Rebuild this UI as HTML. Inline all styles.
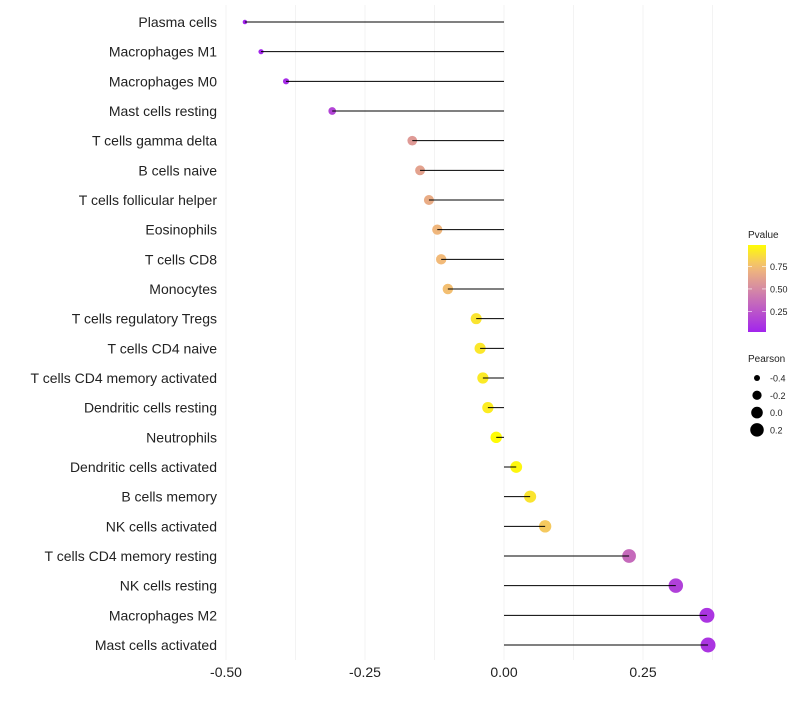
<!DOCTYPE html>
<html><head><meta charset="utf-8"><style>
body{margin:0;background:#fff;font-family:"Liberation Sans",sans-serif}
svg text{font-family:"Liberation Sans",sans-serif}
</style></head><body>
<svg id="chart" width="800" height="700"></svg>
<script>
const categories=["Plasma cells","Macrophages M1","Macrophages M0","Mast cells resting","T cells gamma delta","B cells naive","T cells follicular helper","Eosinophils","T cells CD8","Monocytes","T cells regulatory  Tregs ","T cells CD4 naive","T cells CD4 memory activated","Dendritic cells resting","Neutrophils","Dendritic cells activated","B cells memory","NK cells activated","T cells CD4 memory resting","NK cells resting","Macrophages M2","Mast cells activated"];
const pearson=[-0.466,-0.437,-0.392,-0.309,-0.165,-0.151,-0.135,-0.120,-0.113,-0.101,-0.050,-0.043,-0.038,-0.029,-0.014,0.022,0.047,0.074,0.225,0.309,0.365,0.367];
const pvalue=[0.02,0.03,0.06,0.17,0.58,0.62,0.67,0.72,0.74,0.76,0.9,0.91,0.92,0.93,0.99,0.97,0.9,0.8,0.35,0.15,0.1,0.1];
const xTicks=[-0.5,-0.25,0,0.25];
const xTickLabels=["-0.50","-0.25","0.00","0.25"];
const colorTicks=[0.25,0.5,0.75];
const sizeTicks=[-0.4,-0.2,0.0,0.2];

const NS="http://www.w3.org/2000/svg";
const svg=document.getElementById('chart');
function X(v){return 504+v*556;}
function Y(i){return 22+i*(623/21);}
const pMin=Math.min(...pearson),pMax=Math.max(...pearson);
function R(v){const t=(v-pMin)/(pMax-pMin);return Math.sqrt(Math.max(1,5+51*t));}
const stops=[[0,[160,32,240]],[0.5,[213,138,164]],[0.75,[243,188,119]],[1,[255,255,0]]];
function col(p){for(let k=1;k<stops.length;k++){if(p<=stops[k][0]){const a=stops[k-1],b=stops[k];const t=(p-a[0])/(b[0]-a[0]);const c=a[1].map((x,j)=>Math.round(x+(b[1][j]-x)*t));return `rgb(${c})`;}}return 'rgb(255,255,0)';}
function el(t,a,p){const e=document.createElementNS(NS,t);for(const k in a)e.setAttribute(k,a[k]);(p||svg).appendChild(e);return e;}

// grid
for(let v=-0.5;v<=0.375;v+=0.125){
 const g=el('line',{x1:X(v),x2:X(v),y1:5,y2:660,stroke:'#f3f3f3','stroke-width':1});
 
 
}
xTicks.forEach((v,i)=>{
 const t=el('text',{x:X(v),y:677,'text-anchor':'middle','font-size':14,fill:'#222'});
 t.textContent=xTickLabels[i];
 
 
});
categories.forEach((c,i)=>{
 const y=Y(i);
 const t=el('text',{x:217,y:y+5,'text-anchor':'end','font-size':14,fill:'#222'});
 t.textContent=c;
 
 
 const p=el('circle',{cx:X(pearson[i]),cy:y,r:R(pearson[i]),fill:col(pvalue[i])});
 
 
 const l=el('line',{x1:X(0),x2:X(pearson[i]),y1:y,y2:y,stroke:'#000','stroke-width':1});
 
 
});
// color legend
const lt=el('text',{x:748,y:238,'font-size':10,fill:'#222'});lt.textContent='Pvalue';


const defs=el('defs',{});
const lg=el('linearGradient',{id:'pg',x1:0,y1:1,x2:0,y2:0},defs);
const pTop=0.99,pBot=0.02;
for(let k=0;k<=10;k++){const p=pBot+(pTop-pBot)*k/10;el('stop',{offset:k/10,'stop-color':col(p)},lg);}
const bar=el('rect',{x:748,y:245,width:18,height:87,fill:'url(#pg)'});


function CY(p){return 332-(p-pBot)/(pTop-pBot)*87;}
colorTicks.forEach(p=>{
 el('line',{x1:748,x2:752,y1:CY(p),y2:CY(p),stroke:'#fff','stroke-width':0.6});
 el('line',{x1:762,x2:766,y1:CY(p),y2:CY(p),stroke:'#fff','stroke-width':0.6});
 const t=el('text',{x:770,y:CY(p)+3.5,'font-size':9,fill:'#222'});t.textContent=p.toFixed(2);
 
 
});
const st=el('text',{x:748,y:362,'font-size':10,fill:'#222'});st.textContent='Pearson';


sizeTicks.forEach((v,i)=>{
 const y=378+i*17.3;
 const c=el('circle',{cx:757,cy:y,r:R(v),fill:'#000'});
 
 
 const t=el('text',{x:770,y:y+3.5,'font-size':9,fill:'#222'});t.textContent=v.toFixed(1).replace('-0.0','0.0');
 
 
});
</script>
</body></html>
